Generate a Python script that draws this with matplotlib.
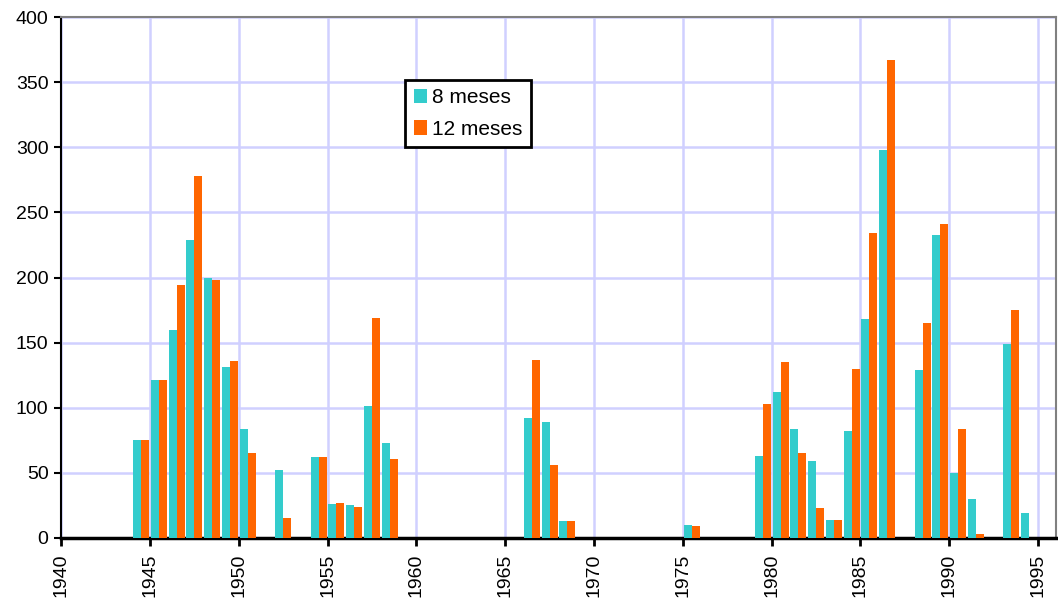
import matplotlib.pyplot as plt
import numpy as np

plt.rcParams['font.family'] = ['Liberation Sans', 'DejaVu Sans']

# years with data
years = [1944, 1945, 1946, 1947, 1948, 1949, 1950, 1952, 1954, 1955, 1956,
         1957, 1958, 1966, 1967, 1968, 1975, 1979, 1980, 1981, 1982, 1983,
         1984, 1985, 1986, 1988, 1989, 1990, 1991, 1993, 1994]
meses8 = [75, 121, 160, 229, 200, 131, 84, 52, 62, 26, 25,
          101, 73, 92, 89, 13, 10, 63, 112, 84, 59, 14,
          82, 168, 298, 129, 233, 50, 30, 149, 19]
meses12 = [75, 121, 194, 278, 198, 136, 65, 15, 62, 27, 24,
           169, 61, 137, 56, 13, 9, 103, 135, 65, 23, 14,
           130, 234, 367, 165, 241, 84, 3, 175, 0]
xticks = list(range(1940, 2000, 5))

fig = plt.figure(figsize=(10.58, 6.03), dpi=100)
ax = fig.add_axes([0.0577, 0.1078, 0.9403, 0.864])

x = np.array(years)
w = 0.45
ax.bar(x + 0.05, meses8, width=w, align='edge', color='#33CCCC', label='8 meses', zorder=3)
ax.bar(x + 0.05 + w, meses12, width=w, align='edge', color='#FF6600', label='12 meses', zorder=3)

ax.set_xlim(1940, 1996)
ax.set_ylim(0, 400)
ax.set_xticks(xticks)
ax.set_xticklabels([str(t) for t in xticks], rotation=90, fontsize=14)
ax.set_yticks(range(0, 401, 50))
ax.tick_params(axis='y', labelsize=14, direction='out', length=5, width=1.5, pad=4)
ax.tick_params(axis='x', direction='out', length=6, width=2, pad=5)

ax.grid(True, color='#D0D0FF', linewidth=1.8, zorder=0)
ax.set_axisbelow(True)

ax.spines['bottom'].set_linewidth(2.5)
ax.spines['bottom'].set_color('black')
ax.spines['left'].set_linewidth(1.5)
ax.spines['left'].set_color('black')
ax.spines['top'].set_color('#808080')
ax.spines['top'].set_linewidth(1.5)
ax.spines['right'].set_color('#808080')
ax.spines['right'].set_linewidth(1.5)

leg = ax.legend(loc='upper left', bbox_to_anchor=(0.346, 0.879), borderaxespad=0,
                fontsize=15, fancybox=False, framealpha=1, edgecolor='black',
                handlelength=0.63, handleheight=0.67, handletextpad=0.25,
                borderpad=0.4, labelspacing=0.6)
leg.get_frame().set_linewidth(2)

fig.savefig('out.png', dpi=100)
